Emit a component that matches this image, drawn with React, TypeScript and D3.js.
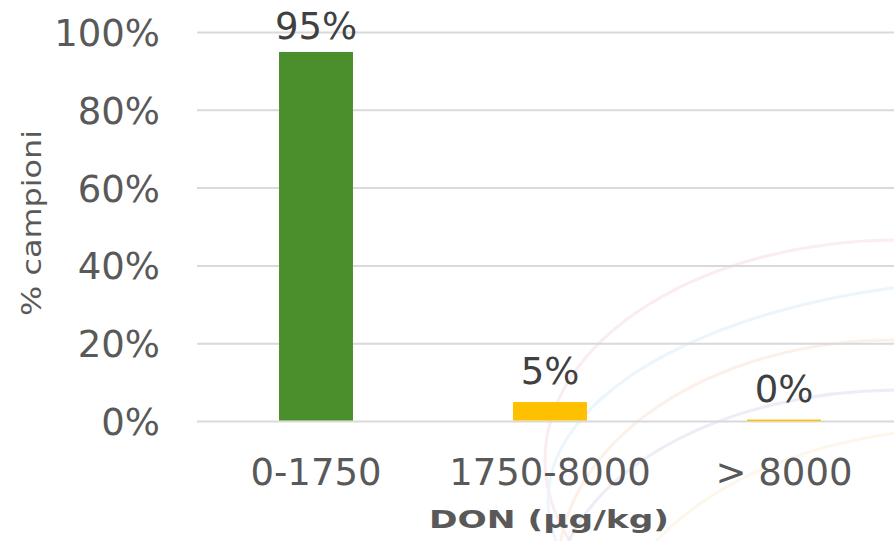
import React from "react";
import * as d3 from "d3";

const categories = ["0-1750", "1750-8000", "> 8000"];
const values = [0.95, 0.05, 0.005];
const valueLabels = ["95%", "5%", "0%"];
const barColors = ["#4B8F2C", "#FFC000", "#FFC000"];
const yTicks = [0, 0.2, 0.4, 0.6, 0.8, 1.0];

// faint decorative background arcs (ellipses): cx, cy, rx, ry, color
const decoArcs: [number, number, number, number, string][] = [
  [899, 460, 354, 220, "#e9a3b4"],
  [1028, 500, 480, 221, "#9fd2f0"],
  [895, 570, 337, 230, "#f2b894"],
  [900, 600, 345, 210, "#a9a2dc"],
  [973, 650, 363, 222, "#f6dc9a"],
];

const W = 894;
const H = 541;
const FONT = "'DejaVu Sans', Verdana, sans-serif";
const TEXT = "#595959";

export default function App() {
  const y = d3.scaleLinear().domain([0, 1]).range([421.5, 32.5]);
  const x = d3
    .scaleBand<string>()
    .domain(categories)
    .range([199, 901])
    .paddingInner(0.684)
    .paddingOuter(0.342);

  const fmt = d3.format(".0%");

  return (
    <svg
      width={W}
      height={H}
      style={{ position: "absolute", left: 0, top: 0, background: "#fff" }}
    >
      <g opacity={0.2} fill="none" strokeWidth={3}>
        {decoArcs.map(([cx, cy, rx, ry, c], i) => (
          <ellipse key={i} cx={cx} cy={cy} rx={rx} ry={ry} stroke={c} />
        ))}
      </g>
      {yTicks.map((t) => (
        <g key={t}>
          <line
            x1={197}
            x2={W}
            y1={y(t)}
            y2={y(t)}
            stroke="#d9d9d9"
            strokeWidth={2}
          />
          <text
            x={160}
            y={y(t) + 13.5}
            textAnchor="end"
            fontFamily={FONT}
            fontSize={37}
            fill={TEXT}
          >
            {fmt(t)}
          </text>
        </g>
      ))}
      {categories.map((c, i) => {
        const top = y(values[i]);
        return (
          <g key={c}>
            <rect
              x={x(c)}
              y={top}
              width={x.bandwidth()}
              height={Math.max(y(0) - top - 1, 1.5)}
              fill={barColors[i]}
            />
            <text
              x={(x(c) as number) + x.bandwidth() / 2}
              y={Math.max(top - 18, 39)}
              textAnchor="middle"
              fontFamily={FONT}
              fontSize={37}
              fill="#404040"
            >
              {valueLabels[i]}
            </text>
            <text
              x={(x(c) as number) + x.bandwidth() / 2}
              y={485}
              textAnchor="middle"
              fontFamily={FONT}
              fontSize={37}
              fill={TEXT}
            >
              {c}
            </text>
          </g>
        );
      })}
      <text
        x={549}
        y={528}
        textAnchor="middle"
        fontFamily={FONT}
        fontWeight="bold"
        fontSize={25}
        fill={TEXT}
        textLength={240}
        lengthAdjust="spacingAndGlyphs"
      >
        DON (µg/kg)
      </text>
      <text
        transform={`translate(41, 223) rotate(-90)`}
        textAnchor="middle"
        fontFamily={FONT}
        fontSize={27}
        fill={TEXT}
        textLength={186}
        lengthAdjust="spacingAndGlyphs"
      >
        % campioni
      </text>
    </svg>
  );
}
